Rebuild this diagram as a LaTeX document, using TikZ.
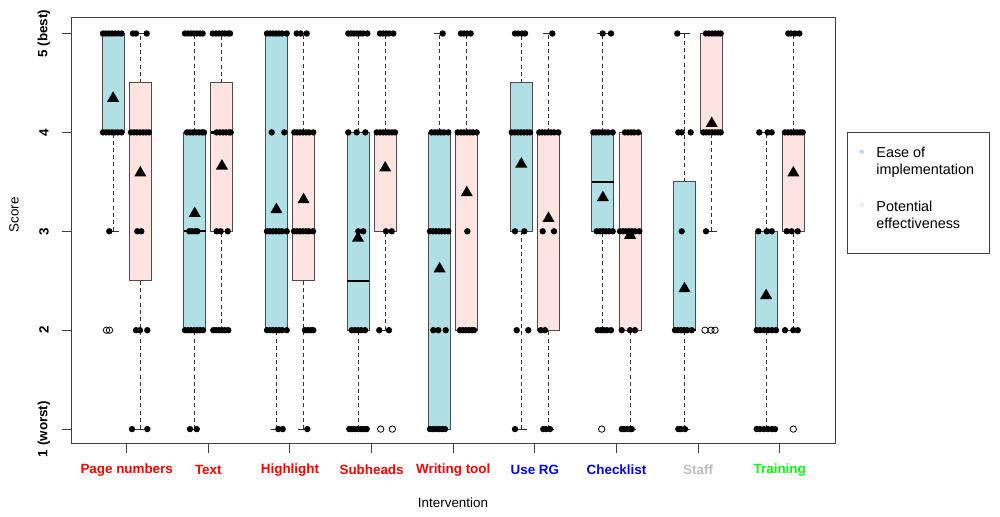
\documentclass[tikz,border=0pt]{standalone}
\usepackage{fontspec}
\setmainfont{Liberation Sans}
\usepackage{xcolor}
\usetikzlibrary{positioning,shapes.geometric}

\definecolor{easecol}{HTML}{B0E0E6}
\definecolor{potcol}{HTML}{FFE4E1}
\definecolor{staffgray}{HTML}{BEBEBE}

% box: x, fill, lower whisker, q1, median, q3, upper whisker
\newcommand{\bxp}[7]{%
  \draw[whisker] (#1,#3) -- (#1,#4) (#1,#6) -- (#1,#7);
  \draw[staple] (#1-5.5,#3) -- (#1+5.5,#3) (#1-5.5,#7) -- (#1+5.5,#7);
  \filldraw[box, fill=#2] (#1-11,#4) rectangle (#1+11,#6);
  \draw[median] (#1-11,#5) -- (#1+11,#5);
}
\newcommand{\pts}[2]{\foreach \px in {#2}{\fill (\px,#1) circle[radius=1.6pt];}}
\newcommand{\outl}[2]{\foreach \px in {#2}{\draw[outlier] (\px,#1) circle[radius=1.6pt];}}

\begin{document}
\begin{tikzpicture}
  [
    x=0.5pt, y=-0.5pt,
    frame/.style={draw=black!75,line width=0.5pt},
    box/.style={draw=black!70,line width=0.5pt},
    whisker/.style={draw=black!80,line width=0.5pt,dash pattern=on 2pt off 1.6pt},
    staple/.style={draw=black!80,line width=0.5pt},
    median/.style={draw=black,line width=1.2pt},
    outlier/.style={draw=black,line width=0.4pt},
    meanmark/.style={regular polygon,regular polygon sides=3,fill=black,inner sep=0pt,minimum size=7pt},
    catlabel/.style={font=\fontsize{6.7}{8}\selectfont\bfseries},
    ticklabel/.style={font=\fontsize{6.7}{8}\selectfont\bfseries,rotate=90},
    axtitle/.style={font=\fontsize{6.7}{8}\selectfont},
    legtext/.style={font=\fontsize{7.2}{8.2}\selectfont,align=left,inner sep=0pt},
    legmark/.style={diamond,inner sep=0pt,minimum size=2.8pt}
  ]
  \useasboundingbox (0,0) rectangle (1000,517);

  \draw[frame] (71,17.7) rectangle (835,444);

  % categories
  \foreach \name/\col [count=\i] in {Page numbers/red, Text/red, Highlight/red,
      Subheads/red, Writing tool/red, Use RG/blue, Checklist/blue, Staff/staffgray, Training/green}
  {
    \pgfmathsetmacro{\c}{126.7+81.63*(\i-1)}
    \draw[frame] (\c,444) -- (\c,453.3);
    \node[catlabel, text=\col] (cat\i) at (\c,470) {\name};
  }
  \node[axtitle] (xtitle) at (453,503) {Intervention};
  \node[axtitle, rotate=90] (ytitle) at (14,215) {Score};

  \begin{scope}[y=49.45pt, yshift=-264pt]
    \foreach \v/\lab in {5/5 (best), 4/4, 3/3, 2/2, 1/1 (worst)}
    {
      \draw[frame] (71,\v) -- (62,\v);
      \node[ticklabel] (tick\v) at (44,\v) {\lab};
    }

    \bxp{113.1}{easecol}{3}{4}{5}{5}{5}
    \bxp{140.3}{potcol}{1}{2.5}{4}{4.5}{5}
    \bxp{194.7}{easecol}{1}{2}{3}{4}{5}
    \bxp{221.9}{potcol}{2}{3}{4}{4.5}{5}
    \bxp{276.4}{easecol}{1}{2}{3}{5}{5}
    \bxp{303.6}{potcol}{1}{2.5}{3}{4}{5}
    \bxp{358.0}{easecol}{1}{2}{2.5}{4}{5}
    \bxp{385.2}{potcol}{2}{3}{4}{4}{5}
    \bxp{439.6}{easecol}{1}{1}{3}{4}{5}
    \bxp{466.8}{potcol}{2}{2}{4}{4}{5}
    \bxp{521.3}{easecol}{1}{3}{4}{4.5}{5}
    \bxp{548.5}{potcol}{1}{2}{4}{4}{5}
    \bxp{602.9}{easecol}{2}{3}{3.5}{4}{5}
    \bxp{630.1}{potcol}{1}{2}{3}{4}{4}
    \bxp{684.5}{easecol}{1}{2}{2}{3.5}{5}
    \bxp{711.7}{potcol}{3}{4}{4}{5}{5}
    \bxp{766.1}{easecol}{1}{2}{2}{3}{4}
    \bxp{793.3}{potcol}{2}{3}{4}{4}{5}

    % Page numbers
    \pts{5}{103,106,109,112,115,118,121.5}
    \pts{4}{103,106,109,112,115,118,121.5}
    \pts{3}{109.3}
    \outl{2}{106.5,109.5}
    \pts{5}{133,136,146.7}
    \pts{4}{131,134,137,140,143,146,149}
    \pts{3}{137.3,141.3}
    \pts{2}{136,140,147.3}
    \pts{1}{132,147.3}
    % Text
    \pts{5}{185,188,191,194,197,200,202.7}
    \pts{4}{187,190,193,196,199,202,204}
    \pts{3}{189.3,192,195,197.3}
    \pts{2}{185,188,191,194,197,200,203}
    \pts{1}{190,196.7}
    \pts{5}{212.7,216,219,222,225,228,230}
    \pts{4}{216.7,220,223,226,229,230.7}
    \pts{3}{216.7,220.7,227.7}
    \pts{2}{213.3,216,219,222,225,228.3}
    % Highlight
    \pts{5}{267,270,273,276,279,282,286.7}
    \pts{4}{271.7,284.3}
    \pts{3}{267,270,273,276,279,282,286.7}
    \pts{2}{267,270,273,276,279,282,286.7}
    \pts{1}{278.3,282.7}
    \pts{5}{296.7,300.7,306.7}
    \pts{4}{294.3,297,300,303,306,309,313.3}
    \pts{3}{294,297,300,303,306,309,313}
    \pts{2}{305,308,311,313.3}
    \pts{1}{307.3}
    % Subheads
    \pts{5}{348.3,351,354,357,360,363,367.3}
    \pts{4}{348.3,356.7,365.3}
    \pts{3}{358.3,363.3}
    \pts{2}{351.7,355,358,361,365}
    \pts{1}{349.3,352,355,358,361,364,366.7}
    \pts{5}{380,383,386,389,393.3}
    \pts{4}{376.7,380,383,386,389,392,395}
    \pts{3}{386,391.7}
    \pts{2}{379.3,389}
    \outl{1}{380.7,392.3}
    % Writing tool
    \pts{5}{442.7}
    \pts{4}{431.7,435,438,441,444,448.3}
    \pts{3}{430,433,436,439,442,445,448.3}
    \pts{2}{433.3,438.3,445.7}
    \pts{1}{430,433,436,439,442,445}
    \pts{5}{461,464,467,470.7}
    \pts{4}{457.7,461,464,467,470,473,476.7}
    \pts{3}{467.3}
    \pts{2}{460,463,466,469,472,474}
    % Use RG
    \pts{5}{515,518,522,525}
    \pts{4}{511.7,515,518,521,524,527,530}
    \pts{3}{515,524.3}
    \pts{2}{516.7,528.3}
    \pts{1}{515}
    \pts{5}{552.3}
    \pts{4}{539.3,542,545,548,551,554,558.3}
    \pts{3}{542.7,554}
    \pts{2}{540.7,545}
    \pts{1}{543.3,546,550}
    % Checklist
    \pts{5}{602.7,611}
    \pts{4}{593.3,596,599,602,605,608,612.7}
    \pts{3}{596.7,600,603,606,609,612.7}
    \pts{2}{597.7,601,604,607,611}
    \outl{1}{601.7}
    \pts{4}{625,628,631,634,638.3}
    \pts{3}{620,623,626,629,632,635,639.3}
    \pts{2}{621.7,630,635}
    \pts{1}{621.7,624,627,630,631.7}
    % Staff
    \pts{5}{677.3}
    \pts{4}{678.3,681.7,690.7}
    \pts{3}{681.7}
    \pts{2}{675,678,681,684,687,691.7}
    \pts{1}{678.3,681,685}
    \pts{5}{706,709,712,715,718,720.7}
    \pts{4}{703.3,706,709,712,715,718,720.7}
    \pts{3}{706}
    \outl{2}{705,711,715}
    % Training
    \pts{4}{759.3,767.7,771.7}
    \pts{3}{758.3,766.7,771.7}
    \pts{2}{756.7,760,764,768,772,776}
    \pts{1}{756.7,760,764,768,772,775}
    \pts{5}{788.3,791,795,799.3}
    \pts{4}{785,788,791,794,797,800,802.7}
    \pts{3}{786.7,791.7,797.7}
    \pts{2}{785,793.3,797.7}
    \outl{1}{793.3}

    % means
    \foreach \mx/\mv [count=\k] in {113.1/4.345, 140.3/3.59, 194.7/3.18, 221.9/3.66,
        276.4/3.22, 303.6/3.32, 358.0/2.93, 385.2/3.64, 439.6/2.62, 466.8/3.39,
        521.3/3.68, 548.5/3.13, 602.9/3.34, 630.1/2.96, 684.5/2.42, 711.7/4.09,
        766.1/2.35, 793.3/3.59}
      \node[meanmark] (mean\k) at (\mx,\mv) {};
  \end{scope}

  % legend
  \draw[frame] (847.3,132.7) rectangle (989,253.3);
  \node[legmark, fill=easecol] (easemark) at (861.7,151.7) {};
  \node[legtext, anchor=base west] (easetext) at (876,174.3) {Ease of\\implementation};
  \node[legmark, fill=potcol] (potmark) at (861.7,205) {};
  \node[legtext, anchor=base west] (pottext) at (876,228.3) {Potential\\effectiveness};
\end{tikzpicture}
\end{document}
